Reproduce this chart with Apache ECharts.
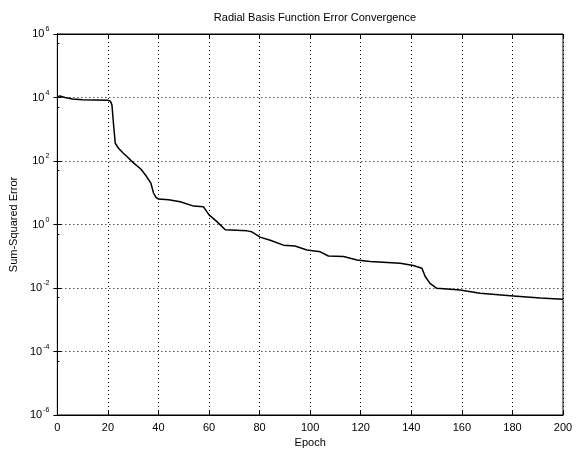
<!DOCTYPE html>
<html>
<head>
<meta charset="utf-8">
<script src="https://cdn.jsdelivr.net/npm/echarts@6/dist/echarts.min.js"></script>
<style>
  html, body { margin: 0; padding: 0; background: #fff; }
  #main { width: 578px; height: 454px; }
</style>
</head>
<body>
<div id="main"></div>
<script>
// epoch / sum-squared error
var epochs = [0, 1, 3, 6, 10, 15, 20, 21, 21.6, 22.3, 22.9, 24.2, 26, 27.5, 30, 33, 35, 37, 38, 39, 40, 44,
  48.6, 53.9, 57.8, 60, 63.1, 66.4, 75, 76.9, 80.2, 84.2, 89.4, 94, 98.7, 104, 107.2, 113.2, 118.5, 123.7,
  135.6, 140.8, 144.2, 145.5, 147.4, 150.1, 159.3, 167.2, 180.4, 191, 200]
var sse = [10470, 11220, 10000, 8913, 8511, 8318, 8128, 7586, 5754, 1202, 363, 251, 178, 138, 89, 56, 35, 20, 10, 7.1, 6.3, 6.0,
  5.2, 3.8, 3.6, 2.0, 1.23, 0.68, 0.63, 0.59, 0.40, 0.32, 0.224, 0.209, 0.158, 0.138, 0.102, 0.098, 0.076, 0.068,
  0.060, 0.051, 0.042, 0.023, 0.014, 0.0098, 0.0087, 0.0068, 0.0056, 0.0048, 0.0044]
var xTicks = [0, 20, 40, 60, 80, 100, 120, 140, 160, 180, 200]
var yExponents = [-6, -4, -2, 0, 2, 4, 6]

var chart = echarts.init(document.getElementById('main'))
var font = 'Liberation Sans'
var gridLine = { show: true, lineStyle: { color: '#000', type: [1, 3], width: 1 } }

var points = []
for (var i = 0; i < epochs.length; i++) {
  points.push([epochs[i], sse[i]])
}

function powLabel(v) {
  var e = Math.round(Math.log10(v))
  return '{b|10}{s|' + e + '}'
}

var option = {
  animation: false,
  backgroundColor: '#fff',
  title: {
    text: 'Radial Basis Function Error Convergence',
    left: 310,
    textAlign: 'center',
    top: 7,
    textStyle: { fontFamily: font, fontSize: 11, fontWeight: 'normal', color: '#000' }
  },
  grid: {
    left: 57,
    right: 15,
    top: 34,
    bottom: 39,
    show: true,
    borderColor: '#000',
    borderWidth: 1
  },
  xAxis: [{
    type: 'value',
    min: xTicks[0],
    max: xTicks[xTicks.length - 1],
    interval: 20,
    name: 'Epoch',
    nameLocation: 'middle',
    nameGap: 22,
    nameTextStyle: { fontFamily: font, fontSize: 11, color: '#000' },
    axisLine: { onZero: false, lineStyle: { color: '#000' } },
    axisTick: { inside: true, length: 4, lineStyle: { color: '#000' } },
    axisLabel: { fontFamily: font, fontSize: 11, color: '#000', margin: 7 },
    splitLine: gridLine
  }, {
    type: 'value',
    position: 'top',
    min: 0,
    max: 200,
    interval: 20,
    axisLine: { show: true, lineStyle: { color: '#000' } },
    axisTick: { inside: true, length: 4, lineStyle: { color: '#000' } },
    axisLabel: { show: false },
    splitLine: { show: false }
  }],
  yAxis: [{
    type: 'log',
    logBase: 10,
    min: Math.pow(10, yExponents[0]),
    max: Math.pow(10, yExponents[yExponents.length - 1]),
    interval: 2,
    name: 'Sum-Squared Error',
    nameLocation: 'middle',
    nameGap: 36,
    nameTextStyle: { fontFamily: font, fontSize: 11, color: '#000' },
    axisLine: { show: true, lineStyle: { color: '#000' } },
    axisTick: { inside: true, length: 4, lineStyle: { color: '#000' } },
    minorTick: { show: true, splitNumber: 2, length: 2, lineStyle: { color: '#000' } },
    axisLabel: {
      fontFamily: font,
      color: '#000',
      margin: 8,
      formatter: powLabel,
      rich: {
        b: { fontFamily: font, fontSize: 11, color: '#000', lineHeight: 16 },
        s: { fontFamily: font, fontSize: 7, color: '#000', verticalAlign: 'top', lineHeight: 16, padding: [0, 0, 6, 1] }
      }
    },
    splitLine: gridLine
  }, {
    type: 'log',
    logBase: 10,
    position: 'right',
    min: 1e-6,
    max: 1e6,
    interval: 2,
    axisLine: { show: true, lineStyle: { color: '#000' } },
    axisTick: { inside: true, length: 4, lineStyle: { color: '#000' } },
    axisLabel: { show: false },
    splitLine: { show: false }
  }],
  series: [{
    type: 'line',
    data: points,
    showSymbol: false,
    smooth: false,
    lineStyle: { color: '#000', width: 1.5 },
    itemStyle: { color: '#000' }
  }]
}

chart.setOption(option)
</script>
</body>
</html>
